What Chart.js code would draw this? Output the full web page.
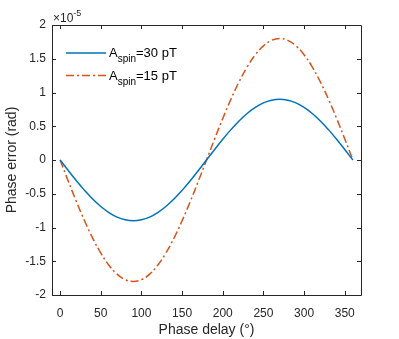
<!DOCTYPE html>
<html><head><meta charset="utf-8">
<script src="https://cdn.jsdelivr.net/npm/chart.js@4/dist/chart.umd.min.js"></script>
<style>html,body{margin:0;padding:0;background:#fff}#c{display:block}</style>
</head><body>
<canvas id="c" width="399" height="339"></canvas>
<script>
// Phase delay (degrees)
const phaseDelay = [0,10,20,30,40,50,60,70,80,90,100,110,120,130,140,150,160,170,180,190,200,210,220,230,240,250,260,270,280,290,300,310,320,330,340,350,360];
// Phase error in units of 1e-5 rad
const spin30 = [0,-0.156,-0.308,-0.45,-0.579,-0.689,-0.779,-0.846,-0.886,-0.9,-0.886,-0.846,-0.779,-0.689,-0.579,-0.45,-0.308,-0.156,0,0.156,0.308,0.45,0.579,0.689,0.779,0.846,0.886,0.9,0.886,0.846,0.779,0.689,0.579,0.45,0.308,0.156,0];
const spin15 = [0,-0.313,-0.616,-0.9,-1.157,-1.379,-1.559,-1.691,-1.773,-1.8,-1.773,-1.691,-1.559,-1.379,-1.157,-0.9,-0.616,-0.313,0,0.313,0.616,0.9,1.157,1.379,1.559,1.691,1.773,1.8,1.773,1.691,1.559,1.379,1.157,0.9,0.616,0.313,0];
const xTicks = [0,50,100,150,200,250,300,350];
const yTicks = [-2,-1.5,-1,-0.5,0,0.5,1,1.5,2];
const seriesNames = [["A","spin","=30 pT"],["A","spin","=15 pT"]];
const colors = ["#0072BD","#D95319"];
const FONT = "'Liberation Sans', Arial, sans-serif";

const framePlugin = {
  id:'frame',
  afterDraw(chart){
    const {ctx, chartArea:a, scales:{x,y}} = chart;
    ctx.save();
    ctx.strokeStyle = '#262626';
    ctx.lineWidth = 1;
    ctx.beginPath();
    ctx.rect(Math.round(a.left)+0.5, Math.round(a.top)+0.5, Math.round(a.right-a.left), Math.round(a.bottom-a.top));
    ctx.stroke();
    const tl = 4;
    ctx.beginPath();
    xTicks.forEach(v=>{
      const px = Math.round(x.getPixelForValue(v))+0.5;
      ctx.moveTo(px,a.bottom); ctx.lineTo(px,a.bottom-tl);
      ctx.moveTo(px,a.top); ctx.lineTo(px,a.top+tl);
    });
    yTicks.forEach(v=>{
      const py = Math.round(y.getPixelForValue(v))+0.5;
      ctx.moveTo(a.left,py); ctx.lineTo(a.left+tl,py);
      ctx.moveTo(a.right,py); ctx.lineTo(a.right-tl,py);
    });
    ctx.stroke();
    // exponent label
    ctx.fillStyle = '#262626';
    ctx.textBaseline = 'alphabetic';
    ctx.textAlign = 'left';
    ctx.font = '12px ' + FONT;
    ctx.fillText('\u00d710', a.left+1, a.top-3);
    const w = ctx.measureText('\u00d710').width;
    ctx.font = '9px ' + FONT;
    ctx.fillText('-5', a.left+1+w, a.top-9);
    // legend
    seriesNames.forEach((n,i)=>{
      const ly = 53 + i*22.5;
      ctx.strokeStyle = colors[i];
      ctx.lineWidth = 1.5;
      ctx.setLineDash(i===1 ? [8,3,2,3] : []);
      ctx.beginPath(); ctx.moveTo(66,ly); ctx.lineTo(106,ly); ctx.stroke();
      ctx.setLineDash([]);
      ctx.fillStyle = '#000';
      let tx = 109;
      ctx.font = '13px ' + FONT;
      ctx.fillText(n[0], tx, ly+4); tx += ctx.measureText(n[0]).width;
      ctx.font = '10px ' + FONT;
      ctx.fillText(n[1], tx, ly+9); tx += ctx.measureText(n[1]).width;
      ctx.font = '13px ' + FONT;
      ctx.fillText(n[2], tx, ly+4);
    });
    ctx.restore();
  }
};

new Chart(document.getElementById('c'), {
  type:'line',
  data:{
    labels: phaseDelay,
    datasets:[
      {data: phaseDelay.map((v,i)=>({x:v,y:spin30[i]})), borderColor:colors[0], borderWidth:1.5, pointRadius:0, tension:0.4, fill:false},
      {data: phaseDelay.map((v,i)=>({x:v,y:spin15[i]})), borderColor:colors[1], borderWidth:1.5, borderDash:[8,3,2,3], pointRadius:0, tension:0.4, fill:false}
    ]
  },
  options:{
    responsive:false, animation:false,
    layout:{padding:{top:25,right:38,left:0,bottom:0}},
    plugins:{legend:{display:false}, tooltip:{enabled:false}},
    scales:{
      x:{type:'linear', min:-10, max:370,
        afterBuildTicks(s){ s.ticks = xTicks.map(v=>({value:v})); },
        afterFit(s){ s.height = 44; },
        grid:{display:false, drawTicks:false}, border:{display:false},
        ticks:{color:'#262626', font:{family:FONT, size:12}, padding:11, maxRotation:0, autoSkip:false},
        title:{display:true, text:'Phase delay (\u00b0)', color:'#262626', font:{family:FONT, size:14}, padding:{top:3,bottom:0}}
      },
      y:{type:'linear', min:-2, max:2,
        afterBuildTicks(s){ s.ticks = yTicks.map(v=>({value:v})); },
        afterFit(s){ s.width = 52; },
        grid:{display:false, drawTicks:false}, border:{display:false},
        ticks:{color:'#262626', font:{family:FONT, size:12}, padding:6, autoSkip:false, callback:v=>String(v)},
        title:{display:true, text:'Phase error (rad)', color:'#262626', font:{family:FONT, size:14}, padding:{top:4,bottom:0}}
      }
    }
  },
  plugins:[framePlugin]
});
</script>
</body></html>
